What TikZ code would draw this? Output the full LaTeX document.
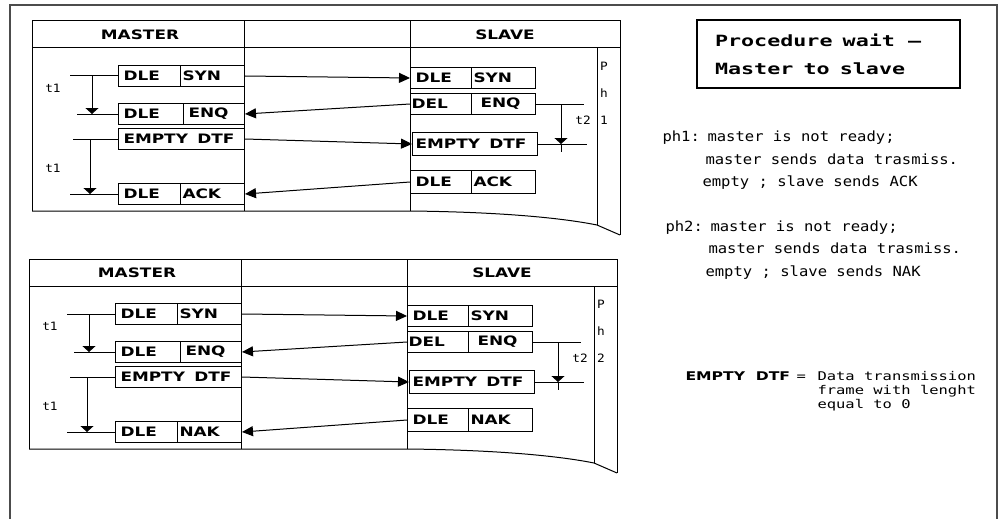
\documentclass[tikz,border=0pt]{standalone}
\usepackage{fontspec}
\setmainfont{DejaVu Sans}
\newfontfamily\lblfont{DejaVu Sans}[FakeStretch=1.3,WordSpace=2]
\newfontfamily\txtfont{DejaVu Sans Mono}[FakeStretch=1.11]
\newfontfamily\ttlfont{DejaVu Sans Mono}[FakeStretch=1.4]
\newfontfamily\dfnfont{DejaVu Sans Mono}[FakeStretch=1.29]
\usetikzlibrary{arrows.meta}

\begin{document}
\begin{tikzpicture}[x=1pt,y=-1pt,line width=1pt,
  hdr/.style={inner sep=0pt,font=\lblfont\bfseries\fontsize{13}{15}\selectfont},
  fld/.style={draw,anchor=north west,minimum height=21pt,inner xsep=5pt,inner ysep=0pt,align=left,
    font=\lblfont\bfseries\fontsize{13}{15}\selectfont},
  dsc/.style={inner sep=0pt,anchor=base west,font=\txtfont\fontsize{14}{16}\selectfont},
  dfn/.style={inner sep=0pt,anchor=base west,font=\dfnfont\fontsize{12}{14}\selectfont},
  sml/.style={inner sep=0pt,font=\txtfont\fontsize{11.5}{13}\selectfont},
  msg/.style={-{Triangle[length=11pt,width=10pt]}},
  tim/.style={-{Triangle[length=6pt,width=13pt]}}]
  \useasboundingbox (0,0) rectangle (1004,519);
  \draw[line width=1.5pt,black!70] (10,519) -- (10,5) -- (997,5) -- (997,519);

  \foreach \sx/\sy/\ph/\rep in {32/21/1/ACK,29/259/2/NAK}{
  \begin{scope}[shift={(\sx,\sy)}]
    % table
    \draw (0,190) -- (0,0) -- (588,0) -- (588,214);
    \draw (0,27) -- (588,27);
    \draw (212,0) -- (212,190);
    \draw (378,0) -- (378,190);
    \draw (565,27) -- (565,204);
    \draw (0,190) -- (378,190) .. controls (470,191) and (530,197) .. (565,204) -- (588,214);
    \node[hdr] (mst) at (108,14) {MASTER};
    \node[hdr] (slv) at (473,14) {SLAVE};
    % master frames
    \node[fld,text width=52pt] (msa) at (86,44) {DLE};
    \node[fld,inner xsep=2pt,text width=60pt] (msb) at (148,44) {SYN};
    \node[fld,text width=55pt] (mea) at (86,82) {DLE};
    \node[fld,text width=51pt] (meb) at (151,82) {ENQ};
    \node[fld,text width=116pt] (mdt) at (86,107) {EMPTY \hspace{5pt}DTF};
    \node[fld,text width=52pt] (mka) at (86,162) {DLE};
    \node[fld,inner xsep=2pt,text width=60pt] (mkb) at (148,162) {\rep};
    % slave frames
    \node[fld,text width=51pt] (ssa) at (378,46) {DLE};
    \node[fld,inner xsep=2pt,text width=60pt] (ssb) at (439,46) {SYN};
    \node[fld,inner xsep=1pt,text width=59pt] (sea) at (378,72) {DEL};
    \node[fld,text width=54pt] (seb) at (439,72) {\hspace*{4pt}ENQ};
    \node[fld,inner xsep=3pt,text width=119pt,minimum height=23pt] (sdt) at (380,111) {EMPTY \hspace{5pt}DTF};
    \node[fld,text width=51pt,minimum height=23pt] (ska) at (378,149) {DLE};
    \node[fld,inner xsep=2pt,text width=60pt,minimum height=23pt] (skb) at (439,149) {\rep};
    % exchanges
    \draw[msg] (msb.east) -- (ssa.west);
    \draw[msg] (sea.west) -- (meb.east);
    \draw[msg] (mdt.east) -- (sdt.west);
    \draw[msg] (ska.west) -- (mkb.east);
    % waiting times
    \draw (38,0 |- msa.west) -- (msa.west);
    \draw (45,0 |- mea.west) -- (mea.west);
    \draw[tim] (60,0 |- msa.west) -- (60,0 |- mea.west);
    \node[sml] (t1a) at (21,67) {t1};
    \draw (41,0 |- mdt.west) -- (mdt.west);
    \draw (38,0 |- mka.west) -- (mka.west);
    \draw[tim] (58,0 |- mdt.west) -- (58,0 |- mka.west);
    \node[sml] (t1b) at (21,147) {t1};
    \draw (seb.east) -- (552,0 |- seb.east);
    \draw (sdt.east) -- (555,0 |- sdt.east);
    \draw[tim] (529,0 |- seb.east) -- (529,0 |- sdt.east);
    \draw (529,0 |- sdt.east) -- ++(0,8);
    \node[sml] (t2) at (551,99) {t2};
    % phase
    \node[sml] (pa) at (572,45) {P};
    \node[sml] (pb) at (572,72) {h};
    \node[sml] (pc) at (572,99) {\ph};
  \end{scope}
  }

  % title and notes
  \node[draw,line width=2.5pt,inner xsep=18pt,inner ysep=0pt,minimum height=68pt,text width=227pt,align=left,
    font=\ttlfont\bfseries\fontsize{15.5}{28}\selectfont] (ttl) at (828.5,54)
    {Procedure \hspace{5pt}wait \hspace{8pt}–\\Master \hspace{5pt}to \hspace{5pt}slave};
  \node[dsc] (ph1) at (662,141) {ph1:};
  \node[dsc] (ph1a) at (707,141) {master is not ready;};
  \node[dsc] (ph1b) at (705,164) {master sends data trasmiss.};
  \node[dsc] (ph1c) at (702,186) {empty ; slave sends ACK};
  \node[dsc] (ph2) at (665,231) {ph2:};
  \node[dsc] (ph2a) at (710,231) {master is not ready;};
  \node[dsc] (ph2b) at (708,253) {master sends data trasmiss.};
  \node[dsc] (ph2c) at (705,276) {empty ; slave sends NAK};
  \node[hdr,anchor=base west,font=\lblfont\bfseries\fontsize{12}{14}\selectfont] (edtf) at (685,380) {EMPTY DTF};
  \node[dfn] (eq) at (796,380) {=};
  \node[dfn] (dfa) at (817,380) {Data transmission};
  \node[dfn] (dfb) at (817,394) {frame with lenght};
  \node[dfn] (dfc) at (817,408) {equal to 0};
\end{tikzpicture}
\end{document}
